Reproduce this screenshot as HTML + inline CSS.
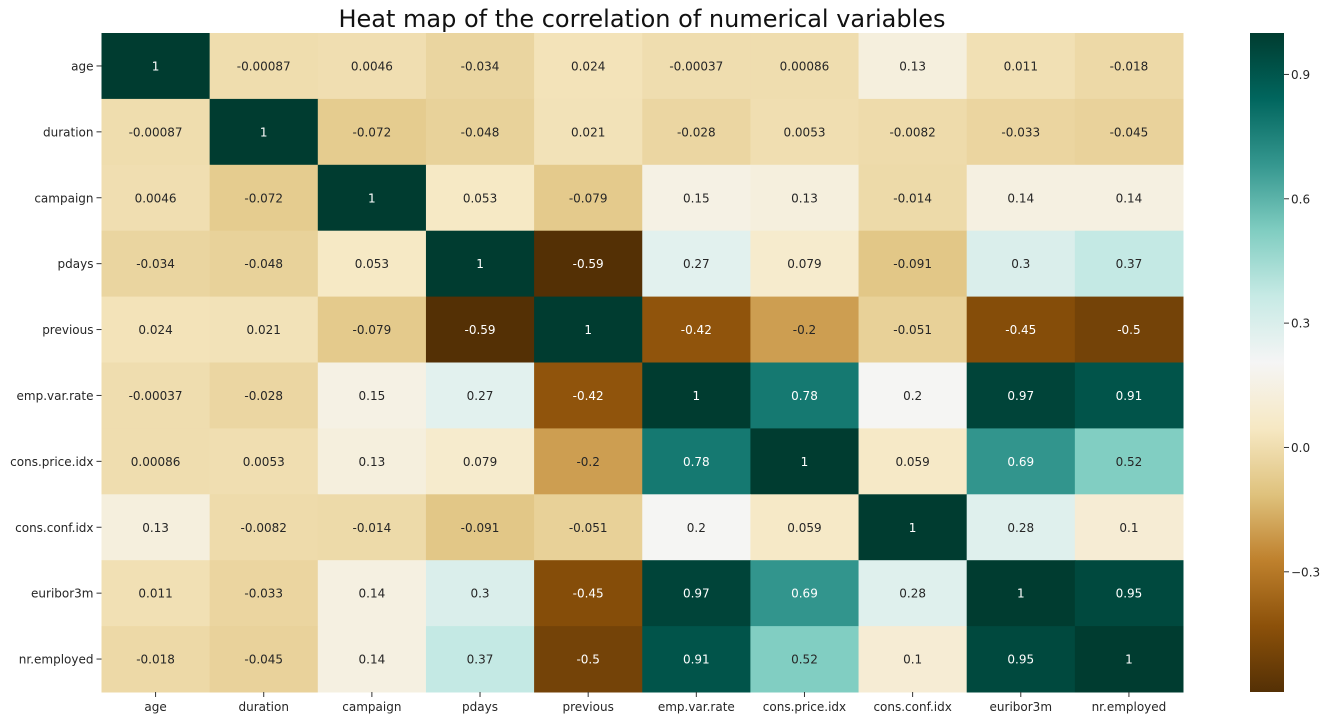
<!DOCTYPE html>
<html><head><meta charset="utf-8"><style>
body{margin:0;background:#fff;}
svg text{font-family:"DejaVu Sans","Liberation Sans",sans-serif;}
</style></head><body>
<svg id="chart" width="1329" height="721">
<text x="642" y="27" font-size="24" text-anchor="middle" fill="#111">Heat map of the correlation of numerical variables</text>
<g id="cells"></g><g id="ylab"></g><g id="xlab"></g>
<defs><linearGradient id="cbg" x1="0" y1="1" x2="0" y2="0"></linearGradient></defs>
<rect x="1250" y="33" width="34" height="659" fill="url(#cbg)"/>
<g id="cbticks"></g>
</svg>
<script>
const labels=["age","duration","campaign","pdays","previous","emp.var.rate","cons.price.idx","cons.conf.idx","euribor3m","nr.employed"];
const row0=[1,-0.00087,0.0046,-0.034,0.024,-0.00037,0.00086,0.13,0.011,-0.018];
const row1=[-0.00087,1,-0.072,-0.048,0.021,-0.028,0.0053,-0.0082,-0.033,-0.045];
const row2=[0.0046,-0.072,1,0.053,-0.079,0.15,0.13,-0.014,0.14,0.14];
const row3=[-0.034,-0.048,0.053,1,-0.59,0.27,0.079,-0.091,0.3,0.37];
const row4=[0.024,0.021,-0.079,-0.59,1,-0.42,-0.2,-0.051,-0.45,-0.5];
const row5=[-0.00037,-0.028,0.15,0.27,-0.42,1,0.78,0.2,0.97,0.91];
const row6=[0.00086,0.0053,0.13,0.079,-0.2,0.78,1,0.059,0.69,0.52];
const row7=[0.13,-0.0082,-0.014,-0.091,-0.051,0.2,0.059,1,0.28,0.1];
const row8=[0.011,-0.033,0.14,0.3,-0.45,0.97,0.69,0.28,1,0.95];
const row9=[-0.018,-0.045,0.14,0.37,-0.5,0.91,0.52,0.1,0.95,1];
const cbTicks=[0.9,0.6,0.3,0.0,-0.3];
const rows=[row0,row1,row2,row3,row4,row5,row6,row7,row8,row9];
const vmin=-0.59,vmax=1;
const stops=["#543005","#8c510a","#bf812d","#dfc27d","#f6e8c3","#f5f5f5","#c7eae5","#80cdc1","#35978f","#01665e","#003c30"];
const L=101.5,T=33,W=1081.5,H=659,cw=W/10,ch=H/10;
const NS="http://www.w3.org/2000/svg";
function hex(h){return[1,3,5].map(i=>parseInt(h.substr(i,2),16));}
function cmap(v){let t=(v-vmin)/(vmax-vmin);t=Math.max(0,Math.min(1,t));const p=t*10,i=Math.min(9,Math.floor(p)),f=p-i;const a=hex(stops[i]),b=hex(stops[i+1]);return a.map((x,k)=>Math.round(x+(b[k]-x)*f));}
function mk(tag,at,parent){const e=document.createElementNS(NS,tag);for(const k in at)e.setAttribute(k,at[k]);parent.appendChild(e);return e;}
const xs=i=>L+i*cw, ys=j=>T+j*ch;
const gc=document.getElementById('cells');
rows.forEach((r,j)=>r.forEach((v,i)=>{
 const c=cmap(v);
 const rc=mk('rect',{x:xs(i),y:ys(j),width:cw+0.5,height:ch+0.5,fill:`rgb(${c})`},gc);
 
 
 const light=(v>0.6||v<-0.3);
 const t=mk('text',{x:xs(i)+cw/2,y:ys(j)+ch/2+4.5,'font-size':12,'text-anchor':'middle',fill:light?'#ffffff':'#262626'},gc);
 t.textContent=String(v);
 
 
}));
const gy=document.getElementById('ylab'),gx=document.getElementById('xlab');
labels.forEach((l,k)=>{
 mk('line',{x1:L-5,x2:L,y1:ys(k)+ch/2,y2:ys(k)+ch/2,stroke:'#333'},gy);
 const t=mk('text',{x:L-8,y:ys(k)+ch/2+4.5,'font-size':12,'text-anchor':'end',fill:'#262626'},gy);
 t.textContent=l;
 
 
 mk('line',{x1:xs(k)+cw/2,x2:xs(k)+cw/2,y1:T+H,y2:T+H+5,stroke:'#333'},gx);
 const u=mk('text',{x:xs(k)+cw/2,y:T+H+19,'font-size':12,'text-anchor':'middle',fill:'#262626'},gx);
 u.textContent=l;
 
 
});
const grad=document.getElementById('cbg');
stops.forEach((s,i)=>mk('stop',{offset:(i/10*100)+'%','stop-color':s},grad));
const cby=v=>T+(vmax-v)/(vmax-vmin)*H;
const gt=document.getElementById('cbticks');
cbTicks.forEach(v=>{
 mk('line',{x1:1284,x2:1289,y1:cby(v),y2:cby(v),stroke:'#333'},gt);
 const t=mk('text',{x:1291,y:cby(v)+4.5,'font-size':12,fill:'#262626'},gt);
 t.textContent=v<0?'\u2212'+Math.abs(v).toFixed(1):v.toFixed(1);
 
 
});
</script>
</body></html>
